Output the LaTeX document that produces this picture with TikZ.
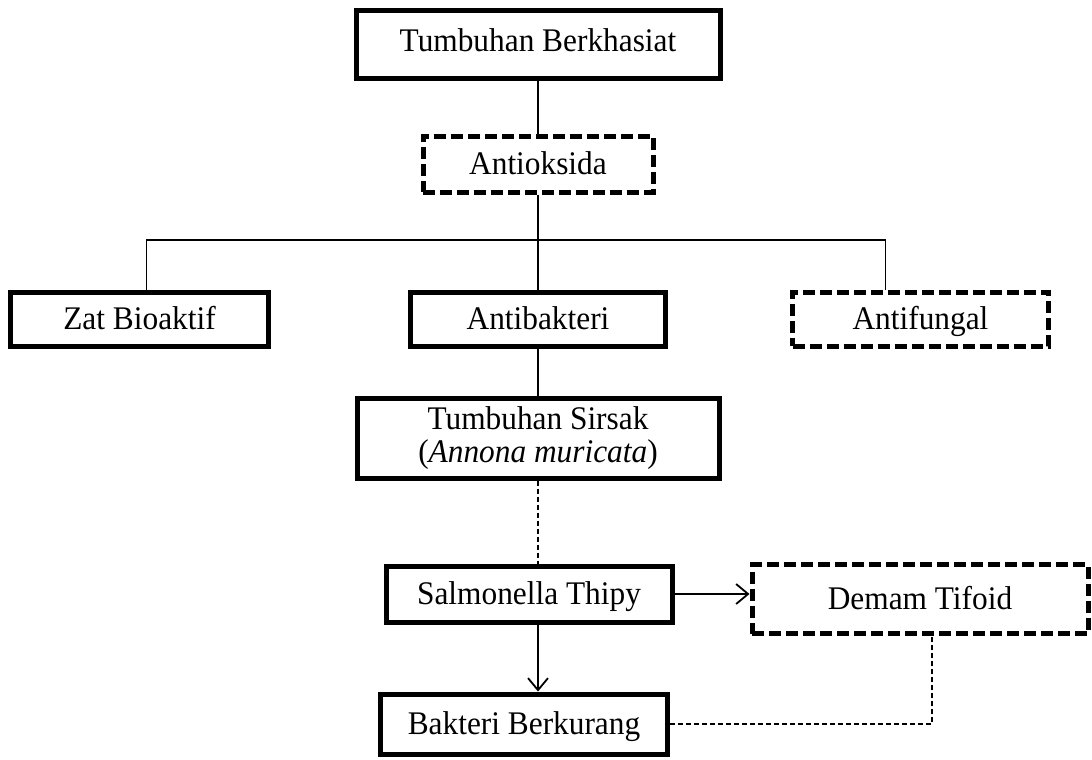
\documentclass[tikz,border=0pt]{standalone}
\usepackage{fontspec}
\setmainfont{Liberation Serif}[FakeStretch=0.95]
\usepackage{tikz}
\usetikzlibrary{positioning}
\usetikzlibrary{arrows.meta}
\usetikzlibrary{calc}
\tikzset{%
	% Specifications for style of nodes:
	base/.style = {rectangle, draw=black, line width=2.5pt,
		inner sep=0pt,
		text centered, font=\fontsize{16.5pt}{16.5pt}\selectfont},
	oneline/.style = {text height=12.5pt, text depth=2pt},
	mainbox/.style = {base, oneline},
	sidebox/.style = {base, oneline, dash pattern=on 6pt off 2.5pt},
	link/.style = {line width=0.9pt},
	dashlink/.style = {line width=0.8pt, dash pattern=on 2.5pt off 1.5pt},
	flow/.style = {link, -{Straight Barb[length=6pt, width=10pt]}},
}
\begin{document}
\begin{tikzpicture}[node distance=1.5cm, align=center]
	\useasboundingbox (0,0) rectangle (546pt,-380pt);
	
	\node (berkhasiat) [mainbox, text height=11pt, text depth=3.5pt, minimum width=182pt, minimum height=34pt] at (269pt,-22pt) {Tumbuhan Berkhasiat};
	\node (antioksida) [sidebox, minimum width=115pt, minimum height=28pt, below=26.5pt of berkhasiat] {Antioksida};
	\node (antibakteri) [mainbox, minimum width=127.5pt, minimum height=27pt, below=47.5pt of antioksida] {Antibakteri};
	\node (zat) [mainbox, minimum width=129pt, minimum height=27pt, left=68.5pt of antibakteri] {Zat Bioaktif};
	\node (antifungal) [sidebox, minimum width=128pt, minimum height=27pt, right=61pt of antibakteri] {Antifungal};
	\node (sirsak) [base, minimum width=181pt, minimum height=40pt, below=23.5pt of antibakteri] {Tumbuhan Sirsak\\(\textit{Annona muricata})};
	\node (salmonella) [mainbox, minimum width=143pt, minimum height=28pt, below=41.5pt of sirsak, xshift=-4.5pt] {Salmonella Thipy};
	\node (demam) [sidebox, minimum width=168pt, minimum height=34.5pt, right=37.5pt of salmonella, yshift=-2.5pt] {Demam Tifoid};
	\node (bakteri) [mainbox, minimum width=143.5pt, minimum height=30pt, below=33.5pt of salmonella, xshift=-2.5pt] {Bakteri Berkurang};
	
	% branches
	\draw [link] (berkhasiat) -- (antioksida);
	\draw [link] (antioksida) -- (antibakteri);
	\coordinate (branch) at ($(antioksida.south)!0.48!(antibakteri.north)$);
	\coordinate (zattop) at ([xshift=3.5pt]zat.north);
	\coordinate (fungaltop) at ([xshift=-17.5pt]antifungal.north);
	\draw [link] (zattop) |- (fungaltop |- branch) -- (fungaltop);
	\draw [link] (antibakteri) -- (sirsak);
	
	\draw [dashlink] (sirsak.south) -- (sirsak.south |- salmonella.north);
	\draw [flow] (salmonella.east) -- (salmonella.east -| demam.west);
	\draw [flow] (salmonella.south -| sirsak.south) -- (bakteri.north -| sirsak.south);
	\coordinate (demambase) at ([xshift=6pt]demam.south);
	\draw [dashlink] (bakteri.east) -| (demambase);
\end{tikzpicture}
\end{document}
